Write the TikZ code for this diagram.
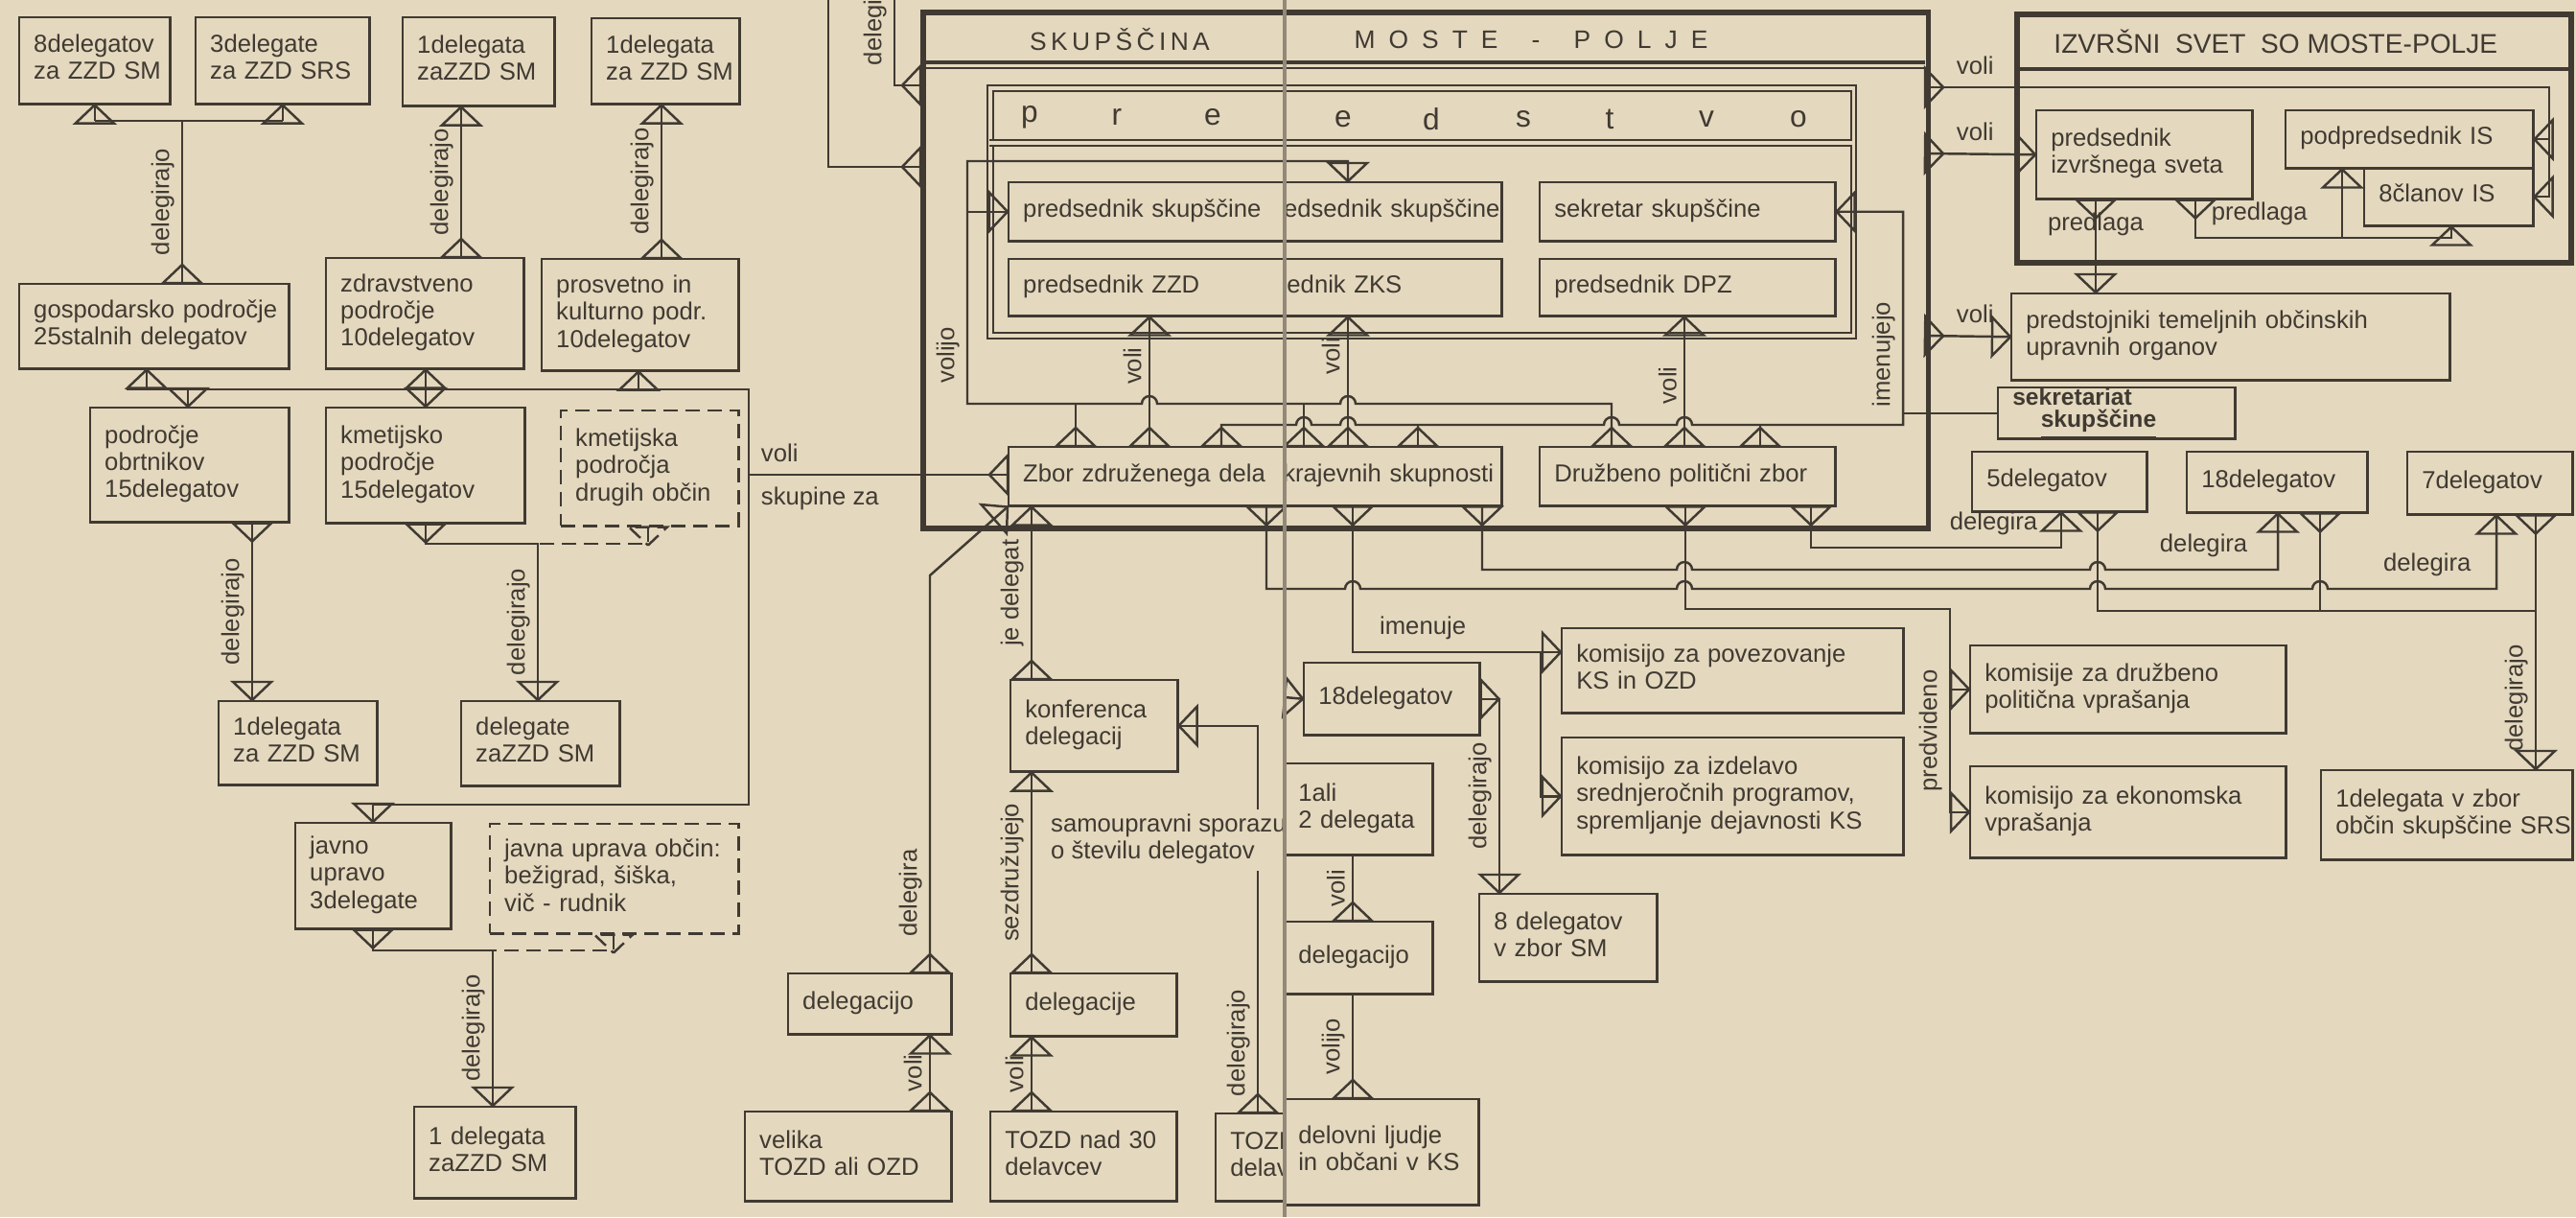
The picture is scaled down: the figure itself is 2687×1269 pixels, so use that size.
\documentclass[tikz,border=0pt]{standalone}
\usepackage{fontspec}
\setmainfont{Liberation Sans}
\usetikzlibrary{decorations.markings}
\definecolor{paper}{RGB}{228,216,190}
\definecolor{ink}{RGB}{64,58,50}
\newcommand\fs{\fontsize{7.3}{8}\selectfont}
\tikzset{
    lnk/.style={ink, line width=0.7pt},
    dsh/.style={dash pattern=on 0.15cm off 0.08cm},
    fin/.style={postaction={decorate,decoration={markings,
        mark=at position 1 with {\draw (0,0) -- (-19,-20) -- (-19,20) -- cycle;}}}},
    fout/.style={postaction={decorate,decoration={markings,
        mark=at position 0 with {\draw (19,0) -- (0,-20) -- (0,20) -- cycle;}}}},
    box/.style={draw=ink, line width=0.7pt, anchor=north west, inner xsep=0.15cm, inner ysep=0pt, align=left},
    frame/.style={draw=ink, line width=1.6pt, anchor=north west, inner sep=0pt},
    lab/.style={rotate=90, anchor=south, inner sep=2pt},
}
% box from (x1,y1) to (x2,y2)
\newcommand\Bx[7][]{%
    \pgfmathsetmacro\bw{(#5-#3)/100}%
    \pgfmathsetmacro\bh{(#6-#4)/100}%
    \pgfmathsetmacro\bt{(#5-#3)/100-0.3}%
    \node[box,#1,minimum width=\bw cm,minimum height=\bh cm,text width=\bt cm] (#2) at (#3,#4)
        {\begin{tabular}{@{}l@{}}#7\end{tabular}};}

\begin{document}
\begin{tikzpicture}[x=0.01cm,y=-0.01cm,every node/.style={font=\fs,text=ink}]
\useasboundingbox (0,0) rectangle (2687,1269);
\fill[paper] (0,0) rectangle (2687,1269);
\clip (0,0) rectangle (2687,1269);

% frames
\node[frame,minimum width=10.48cm,minimum height=5.38cm] (skup) at (960,10) {};
\draw[ink,line width=1.2pt] (960,65) -- (2008,65);
\draw[ink,line width=0.6pt] (960,71) -- (2008,71);
\node[draw=ink,double=paper,double distance=0.035cm,line width=0.6pt,anchor=north west,inner sep=0pt,minimum width=9cm,minimum height=2.58cm] (prs) at (1032,91) {};
\draw[ink,double=paper,double distance=0.035cm,line width=0.6pt] (1032,149) -- (1932,149);
\node[frame,minimum width=5.78cm,minimum height=2.59cm] (izs) at (2101,12) {};
\draw[ink,line width=1.4pt] (2101,72) -- (2679,72);

\node[font=\fontsize{7.5}{8}\selectfont] (tsk) at (1168,41) {S\,K\,U\,P\,Š\,Č\,I\,N\,A};
\node[font=\fontsize{7.5}{8}\selectfont] (tmp) at (1597,41) {M\hspace{4pt}O\hspace{4pt}S\hspace{4pt}T\hspace{4pt}E\hspace{10pt}-\hspace{10pt}P\hspace{4pt}O\hspace{4pt}L\hspace{4pt}J\hspace{4pt}E};
\node[font=\fontsize{8}{9}\selectfont,anchor=west] (tis) at (2130,43) {IZVRŠNI\ \ SVET\ \ SO MOSTE-POLJE};
\foreach \ch/\x/\y in {p/1074/122,r/1165/122,e/1265/122,e/1401/124,d/1493/124,s/1589/124,t/1679/124,v/1780/124,o/1876/124}
    \node[font=\fontsize{9}{9}\selectfont] (ps\x) at (\x,\y) {\ch};

% left column
\Bx{A1}{19}{17}{176}{107}{8delegatov\\za ZZD SM}
\Bx{A2}{203}{17}{384}{107}{3delegate\\za ZZD SRS}
\Bx{A3}{419}{17}{577}{109}{1delegata\\zaZZD SM}
\Bx{A4}{616}{18}{770}{107}{1delegata\\za ZZD SM}
\Bx{G}{19}{295}{300}{383}{gospodarsko področje\\25stalnih delegatov}
\Bx{Z}{339}{268}{545}{383}{zdravstveno\\področje\\10delegatov}
\Bx{P}{564}{269}{769}{385}{prosvetno in\\kulturno podr.\\10delegatov}
\Bx{O}{93}{424}{300}{543}{področje\\obrtnikov\\15delegatov}
\Bx{K}{339}{424}{546}{544}{kmetijsko\\področje\\15delegatov}
\Bx[dsh]{KD}{584}{427}{769}{547}{kmetijska\\področja\\drugih občin}
\Bx{B1}{227}{730}{392}{817}{1delegata\\za ZZD SM}
\Bx{B2}{480}{730}{645}{818}{delegate\\zaZZD SM}
\Bx{J}{307}{857}{469}{967}{javno\\upravo\\3delegate}
\Bx[dsh]{JD}{510}{858}{769}{972}{javna uprava občin:\\bežigrad, šiška,\\vič - rudnik}
\Bx{C}{431}{1153}{599}{1248}{1 delegata\\zaZZD SM}

% lower middle
\Bx{konf}{1053}{708}{1227}{803}{konferenca\\delegacij}
\Bx{DLC}{1053}{1014}{1226}{1079}{delegacije}
\Bx{DLO}{821}{1014}{991}{1077}{delegacijo}
\Bx{VEL}{776}{1158}{991}{1251}{velika\\TOZD ali OZD}
\Bx{TZ30}{1032}{1158}{1226}{1251}{TOZD nad 30\\delavcev}

% left page, cut at the fold
\begin{scope}
\clip (0,0) rectangle (1338,1269);
\Bx{PS1}{1051}{189}{1400}{250}{predsednik skupščine}
\Bx{PZ}{1051}{269}{1400}{328}{predsednik ZZD}
\Bx{ZD}{1051}{465}{1400}{526}{Zbor združenega dela}
\Bx{TZP}{1267}{1160}{1400}{1251}{TOZD\\delav}
\end{scope}

% right page, cut at the fold
\begin{scope}
\clip (1342,0) rectangle (2687,1269);
\Bx{PS2}{1300}{189}{1565}{250}{predsednik skupščine}
\Bx{ZKS}{1262}{269}{1565}{328}{predsednik ZKS}
\Bx{ZKSb}{1322}{465}{1565}{526}{krajevnih skupnosti}
\Bx{E12}{1338}{795}{1493}{890}{1ali\\2 delegata}
\Bx{EDG}{1338}{960}{1493}{1035}{delegacijo}
\Bx{EDL}{1338}{1145}{1541}{1255}{delovni ljudje\\in občani v KS}
\end{scope}

\Bx{SEK}{1605}{189}{1913}{250}{sekretar skupščine}
\Bx{DPZp}{1605}{269}{1913}{328}{predsednik DPZ}
\Bx{DPZ}{1605}{465}{1913}{526}{Družbeno politični zbor}
\Bx{E18}{1359}{690}{1542}{765}{18delegatov}
\Bx{E8}{1542}{931}{1727}{1022}{8 delegatov\\v zbor SM}
\Bx{KPO}{1628}{654}{1984}{742}{komisijo za povezovanje\\KS in OZD}
\Bx{KIZ}{1628}{768}{1984}{890}{komisijo za izdelavo\\srednjeročnih programov,\\spremljanje dejavnosti KS}
\Bx{PIS}{2123}{114}{2348}{206}{predsednik\\izvršnega sveta}
\Bx{PPIS}{2383}{114}{2641}{174}{podpredsednik IS}
\Bx{CIS}{2465}{174}{2641}{234}{8članov IS}
\Bx{PRED}{2097}{305}{2554}{395}{predstojniki temeljnih občinskih\\upravnih organov}
\node[box,font=\fontsize{7}{6.6}\selectfont\bfseries,minimum width=2.47cm,minimum height=0.43cm,text width=2.17cm] (SEKR) at (2083,403) {sekretariat\\\hspace*{1.2em}\underline{skupščine}};
\Bx{D5}{2056}{470}{2238}{532}{5delegatov}
\Bx{D18}{2280}{470}{2468}{533}{18delegatov}
\Bx{D7}{2510}{470}{2682}{535}{7delegatov}
\Bx{KPV}{2054}{672}{2383}{763}{komisije za družbeno\\politična vprašanja}
\Bx{KEK}{2054}{798}{2383}{893}{komisijo za ekonomska\\vprašanja}
\Bx{SRS}{2420}{802}{2682}{895}{1delegata v zbor\\občin skupščine SRS}

% left column links
\coordinate (g1) at (190,126);
\draw[lnk,fout] (G.north -| g1) -- node[lab]{delegirajo} (g1);
\draw[lnk] (A1.south |- g1) -- (A2.south |- g1);
\draw[lnk,fin] (A1.south |- g1) -- (A1.south);
\draw[lnk,fin] (A2.south |- g1) -- (A2.south);
\coordinate (z1) at (481,0);
\draw[lnk,fout,fin] (Z.north -| z1) -- node[lab]{delegirajo} (A3.south -| z1);
\coordinate (p1) at (690,0);
\draw[lnk,fout,fin] (P.north -| p1) -- node[lab]{delegirajo} (A4.south -| p1);

\coordinate (b0) at (132,406);
\coordinate (b1) at (781,406);
\coordinate (b2) at (781,839);
\coordinate (b3) at (389,839);
\draw[lnk] (b0) -- (b1) -- (b2) -- (b3);
\coordinate (t1) at (153,406);
\coordinate (t2) at (196,406);
\coordinate (t3) at (444,406);
\coordinate (t4) at (666,406);
\draw[lnk,fin] (t1) -- (G.south -| t1);
\draw[lnk,fin] (t2) -- (O.north -| t2);
\draw[lnk,fin] (t3) -- (Z.south -| t3);
\draw[lnk,fin] (t3) -- (K.north -| t3);
\draw[lnk,fin] (t4) -- (P.south -| t4);
\draw[lnk,fin] (b3) -- (J.north -| b3);
\coordinate (v0) at (781,495);
\draw[lnk,fout] (ZD.west |- v0) -- (v0) node[anchor=south west]{voli} node[anchor=north west]{skupine za};

\coordinate (o1) at (263,0);
\draw[lnk,fout,fin] (O.south -| o1) -- node[lab]{delegirajo} (B1.north -| o1);
\coordinate (k1) at (444,567);
\coordinate (k2) at (561,567);
\coordinate (k3) at (676,567);
\draw[lnk,fout,fin] (K.south -| k1) -- (k1) -- (k2) -- node[lab]{delegirajo} (B2.north -| k2);
\draw[lnk,dsh,fout] (KD.south -| k3) -- (k3) -- (k2);
\coordinate (j1) at (389,991);
\coordinate (j2) at (514,991);
\coordinate (j3) at (640,991);
\draw[lnk,fout,fin] (J.south -| j1) -- (j1) -- (j2) -- node[lab]{delegirajo} (C.north -| j2);
\draw[lnk,dsh,fout] (JD.south -| j3) -- (j3) -- (j2);

% out of the assembly, to the top
\coordinate (s1) at (960,89);
\coordinate (s2) at (960,174);
\coordinate (e1) at (933,0);
\coordinate (e2) at (864,0);
\draw[lnk,fout] (s1) -- (s1 -| e1) -- node[lab,pos=0.86]{delegirajo} (e1);
\draw[lnk,fout] (s2) -- (s2 -| e2) -- (e2);

% volijo
\coordinate (w0) at (1009,168);
\coordinate (w1) at (1009,421);
\coordinate (w2) at (1406,168);
\coordinate (c0) at (1122,421);
\coordinate (c1) at (1681,421);
\coordinate (c2) at (1360,421);
\draw[lnk,fout,fin] (DPZ.north -| c1) -- (c1) -- (1414,421) arc[start angle=0,end angle=180,radius=0.08cm]
    -- (1207,421) arc[start angle=0,end angle=180,radius=0.08cm] -- (w1)
    -- node[lab,pos=0.2]{volijo} (w0) -- (w2) -- (PS2.north -| w2);
\draw[lnk,fin] (w0 |- PS1.west) -- (PS1.west);
\draw[lnk,fout] (ZD.north -| c0) -- (c0);
\draw[lnk,fout] (ZKSb.north -| c2) -- (c2);

% voli
\coordinate (c12) at (1199,0);
\coordinate (c32) at (1757,0);
\draw[lnk,fout,fin] (ZD.north -| c12) -- node[lab,pos=0.62]{voli} (PZ.south -| c12);
\draw[lnk,fout,fin] (ZKSb.north -| w2) -- node[lab,pos=0.7]{voli} (ZKS.south -| w2);
\draw[lnk,fout,fin] (DPZ.north -| c32) -- node[lab,pos=0.47]{voli} (DPZp.south -| c32);

% imenujejo
\coordinate (m0) at (1274,443);
\coordinate (m1) at (1985,443);
\coordinate (m2) at (1479,443);
\coordinate (m3) at (1836,443);
\draw[lnk,fout,fin] (ZD.north -| m0) -- (m0) -- (1352,443) arc[start angle=180,end angle=0,radius=0.08cm]
    -- (1398,443) arc[start angle=180,end angle=0,radius=0.08cm]
    -- (1673,443) arc[start angle=180,end angle=0,radius=0.08cm]
    -- (1749,443) arc[start angle=180,end angle=0,radius=0.08cm]
    -- (m1) -- node[lab,pos=0.33]{imenujejo} (m1 |- SEK.east) -- (SEK.east);
\draw[lnk,fout] (ZKSb.north -| m2) -- (m2);
\draw[lnk,fout] (DPZ.north -| m3) -- (m3);
\draw[lnk] (m1 |- SEKR.west) -- (SEKR.west);

% zbor zdruzenega dela, below
\coordinate (q1) at (1076,0);
\draw[lnk,fout,fin] (konf.north -| q1) -- node[lab]{je delegat} (ZD.south -| q1);
\draw[lnk,fout,fin] (DLC.north -| q1) -- node[lab]{sezdružujejo} (konf.south -| q1);
\draw[lnk,fout,fin] (TZ30.north -| q1) -- node[lab]{voli} (DLC.south -| q1);
\coordinate (d1) at (970,600);
\draw[lnk,fout,fin] (DLO.north -| d1) -- node[lab,pos=0.2]{delegira} (d1) -- (ZD.south west);
\draw[lnk,fout,fin] (VEL.north -| d1) -- node[lab]{voli} (DLO.south -| d1);
\coordinate (r1) at (1312,0);
\draw[lnk,fout,fin] (TZP.north -| r1) -- node[lab,pos=0.18]{delegirajo} (r1 |- konf.east) -- (konf.east);

% delegira
\coordinate (u1) at (1321,614);
\coordinate (u4) at (2604,614);
\draw[lnk,fout,fin] (ZD.south -| u1) -- (u1) -- (1403,614) arc[start angle=180,end angle=0,radius=0.08cm]
    -- (1749,614) arc[start angle=180,end angle=0,radius=0.08cm]
    -- (2180,614) arc[start angle=180,end angle=0,radius=0.08cm]
    -- (2412,614) arc[start angle=180,end angle=0,radius=0.08cm]
    -- node[pos=0.59,above]{delegira} (u4) -- (D7.south -| u4);
\coordinate (u2) at (1546,594);
\coordinate (u5) at (2376,594);
\draw[lnk,fout,fin] (ZKSb.south -| u2) -- (u2) -- (1749,594) arc[start angle=180,end angle=0,radius=0.08cm]
    -- (2180,594) arc[start angle=180,end angle=0,radius=0.08cm]
    -- node[pos=0.57,above]{delegira} (u5) -- (D18.south -| u5);
\coordinate (u3) at (1889,571);
\coordinate (u6) at (2150,571);
\draw[lnk,fout,fin] (DPZ.south -| u3) -- (u3) -- node[pos=0.73,above]{delegira} (u6) -- (D5.south -| u6);
\coordinate (y1) at (2188,637);
\coordinate (y2) at (2420,637);
\coordinate (y3) at (2645,637);
\draw[lnk,fout] (D5.south -| y1) -- (y1) -- (y3);
\draw[lnk,fout] (D18.south -| y2) -- (y2);
\draw[lnk,fout,fin] (D7.south -| y3) -- node[lab,pos=0.72]{delegirajo} (SRS.north -| y3);

% predvideno, imenuje
\coordinate (n1) at (1758,635);
\coordinate (n2) at (2034,635);
\draw[lnk,fout,fin] (DPZ.south -| n1) -- (n1) -- (n2) -- node[lab,pos=0.6]{predvideno} (n2 |- KEK.west) -- (KEK.west);
\draw[lnk,fin] (n2 |- KPV.west) -- (KPV.west);
\coordinate (i1) at (1411,680);
\coordinate (i2) at (1607,680);
\draw[lnk,fout,fin] (ZKSb.south -| i1) -- (i1) -- node[pos=0.07,anchor=south west]{imenuje} (i1 -| KPO.west);
\draw[lnk,fin] (i2) -- (i2 |- KIZ.west) -- (KIZ.west);

% krajevne skupnosti
\coordinate (h0) at (1340,727);
\coordinate (h1) at (1564,0);
\draw[lnk,fin] (h0) -- (E18.west);
\draw[lnk,fout,fin] (E18.east) -- (E18.east -| h1) -- node[lab]{delegirajo} (E8.north -| h1);
\draw[lnk,fout] (EDG.north -| i1) -- node[lab]{voli} (E12.south -| i1);
\draw[lnk,fout] (EDL.north -| i1) -- node[lab]{volijo} (EDG.south -| i1);

% izvrsni svet
\coordinate (a1) at (2008,91);
\coordinate (a2) at (2659,91);
\coordinate (a3) at (2008,160);
\coordinate (a4) at (2008,350);
\draw[lnk,fout,fin] (a1) -- node[at start,anchor=south west,xshift=0.2cm]{voli} (a2) -- (a2 |- CIS.east) -- (CIS.east);
\draw[lnk,fin] (a2 |- PPIS.east) -- (PPIS.east);
\draw[lnk,fout,fin] (a3) -- node[at start,anchor=south west,xshift=0.2cm]{voli} (PIS.west);
\draw[lnk,fout,fin] (a4) -- node[at start,anchor=south west,xshift=0.2cm]{voli} (PRED.west);
\coordinate (f1) at (2186,0);
\draw[lnk,fout,fin] (PIS.south -| f1) -- node[pos=0.26]{predlaga} (PRED.north -| f1);
\coordinate (f2) at (2290,248);
\coordinate (f3) at (2443,248);
\coordinate (f4) at (2557,248);
\draw[lnk,fout,fin] (PIS.south -| f2) -- (f2) -- node[pos=0.25,above]{predlaga} (f4) -- (CIS.south -| f4);
\draw[lnk,fin] (f3) -- (PPIS.south -| f3);

\begin{scope}
\clip (0,0) rectangle (1338,1269);
\node[fill=paper,anchor=west,inner sep=1pt] (sam) at (1092,876) {\begin{tabular}{@{}l@{}}samoupravni sporazum\\o številu delegatov\end{tabular}};
\end{scope}

% fold of the book
\draw[ink!50!paper,line width=1.2pt] (1340,0) -- (1340,1269);
\end{tikzpicture}
\end{document}
